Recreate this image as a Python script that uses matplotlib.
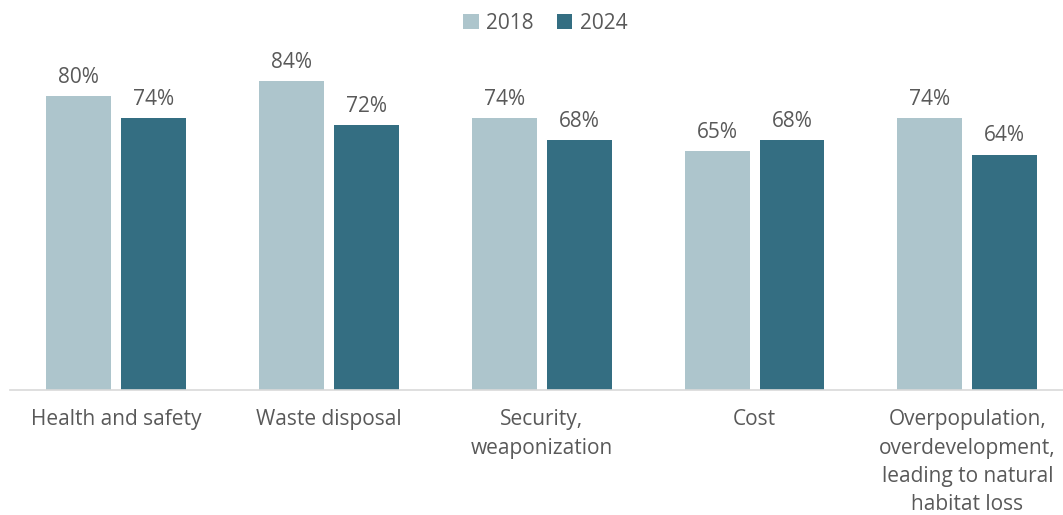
import matplotlib.pyplot as plt
import numpy as np

plt.rcParams['font.family'] = ['Open Sans', 'DejaVu Sans']

categories = ["Health and safety", "Waste disposal", "Security,\nweaponization", "Cost",
              "Overpopulation,\noverdevelopment,\nleading to natural\nhabitat loss"]
years = ["2018", "2024"]
vals_2018 = [80, 84, 74, 65, 74]
vals_2024 = [74, 72, 68, 68, 64]

c_light = "#adc5cc"
c_dark = "#346e82"
txt = "#595959"

fig = plt.figure(figsize=(10.63, 5.15), dpi=100)
ax = fig.add_axes([10/1063, 125/515, 1 - 10/1063, 367.5/515])

x = np.arange(len(categories))
w = 0.305
off = 0.176
b1 = ax.bar(x - off, vals_2018, w, color=c_light, label=years[0])
b2 = ax.bar(x + off, vals_2024, w, color=c_dark, label=years[1])

for bars in (b1, b2):
    for r in bars:
        ax.annotate(f"{r.get_height():.0f}%", (r.get_x() + r.get_width()/2, r.get_height()),
                    xytext=(0, 6), textcoords="offset points", ha="center", va="bottom",
                    fontsize=15, color=txt)

ax.set_xlim(-0.5, 4.45)
ax.set_ylim(0, 100)
ax.set_xticks(x)
ax.set_xticklabels(categories, fontsize=15, color=txt, linespacing=1.45, va="top")
ax.tick_params(axis="x", length=0, pad=14)
ax.set_yticks([])
for s in ["top", "right", "left"]:
    ax.spines[s].set_visible(False)
ax.spines["bottom"].set_color("#d9d9d9")
ax.spines["bottom"].set_linewidth(1.2)

fig.legend(loc="upper center", bbox_to_anchor=(0.513, 1.012), ncol=2, frameon=False,
           fontsize=15, labelcolor=txt, handlelength=0.75, handleheight=0.75,
           handletextpad=0.35, columnspacing=1.1)

fig.savefig("out.png", dpi=100)
